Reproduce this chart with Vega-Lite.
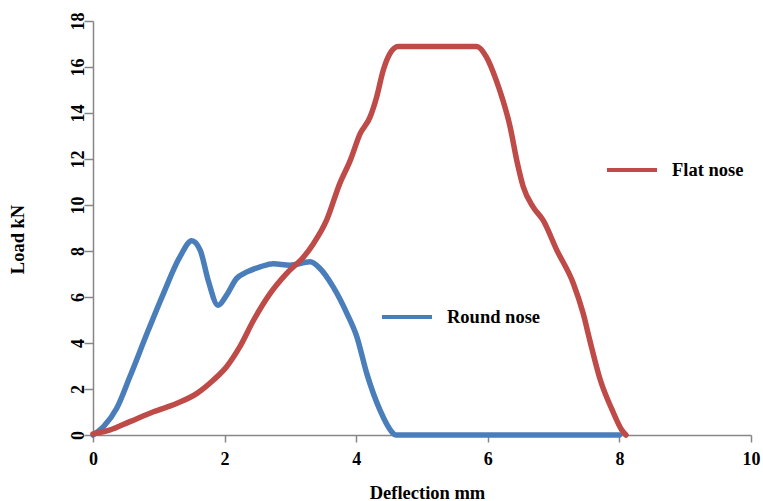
{
  "$schema": "https://vega.github.io/schema/vega-lite/v6.json",
  "width": 658,
  "height": 414,
  "autosize": "none",
  "padding": {"left": 93, "top": 21, "right": 12, "bottom": 66},
  "background": "white",
  "config": {
    "view": {"stroke": null},
    "axis": {
      "grid": false,
      "domainColor": "#868686",
      "domainWidth": 1.5,
      "tickColor": "#868686",
      "tickWidth": 1.5,
      "labelFont": "Liberation Serif",
      "labelFontWeight": "bold",
      "labelFontSize": 18,
      "labelColor": "black",
      "titleFont": "Liberation Serif",
      "titleFontWeight": "bold",
      "titleFontSize": 18.5,
      "titleColor": "black"
    },
    "legend": {
      "labelFont": "Liberation Serif",
      "labelFontWeight": "bold",
      "labelFontSize": 18.5,
      "labelColor": "black"
    }
  },
  "data": {
    "values": [
      {"series": "Round nose", "x": 0.0, "y": 0.0},
      {"series": "Round nose", "x": 0.16, "y": 0.36},
      {"series": "Round nose", "x": 0.36, "y": 1.16},
      {"series": "Round nose", "x": 0.56, "y": 2.53},
      {"series": "Round nose", "x": 0.82, "y": 4.41},
      {"series": "Round nose", "x": 1.07, "y": 6.15},
      {"series": "Round nose", "x": 1.32, "y": 7.74},
      {"series": "Round nose", "x": 1.5, "y": 8.45},
      {"series": "Round nose", "x": 1.63, "y": 8.03},
      {"series": "Round nose", "x": 1.75, "y": 6.73},
      {"series": "Round nose", "x": 1.9, "y": 5.64},
      {"series": "Round nose", "x": 2.03, "y": 6.08},
      {"series": "Round nose", "x": 2.18, "y": 6.8},
      {"series": "Round nose", "x": 2.34, "y": 7.09},
      {"series": "Round nose", "x": 2.54, "y": 7.31},
      {"series": "Round nose", "x": 2.74, "y": 7.45},
      {"series": "Round nose", "x": 2.99, "y": 7.38},
      {"series": "Round nose", "x": 3.3, "y": 7.53},
      {"series": "Round nose", "x": 3.45, "y": 7.24},
      {"series": "Round nose", "x": 3.65, "y": 6.44},
      {"series": "Round nose", "x": 3.86, "y": 5.28},
      {"series": "Round nose", "x": 4.01, "y": 4.27},
      {"series": "Round nose", "x": 4.16, "y": 2.68},
      {"series": "Round nose", "x": 4.36, "y": 1.09},
      {"series": "Round nose", "x": 4.54, "y": 0.14},
      {"series": "Round nose", "x": 4.6, "y": 0.0},
      {"series": "Round nose", "x": 8.0, "y": 0.0},
      {"series": "Flat nose", "x": 0.0, "y": 0.05},
      {"series": "Flat nose", "x": 0.26, "y": 0.22},
      {"series": "Flat nose", "x": 0.56, "y": 0.58},
      {"series": "Flat nose", "x": 0.92, "y": 1.01},
      {"series": "Flat nose", "x": 1.27, "y": 1.37},
      {"series": "Flat nose", "x": 1.58, "y": 1.81},
      {"series": "Flat nose", "x": 1.83, "y": 2.39},
      {"series": "Flat nose", "x": 2.03, "y": 2.97},
      {"series": "Flat nose", "x": 2.23, "y": 3.83},
      {"series": "Flat nose", "x": 2.44, "y": 4.99},
      {"series": "Flat nose", "x": 2.69, "y": 6.15},
      {"series": "Flat nose", "x": 2.94, "y": 7.02},
      {"series": "Flat nose", "x": 3.2, "y": 7.74},
      {"series": "Flat nose", "x": 3.35, "y": 8.32},
      {"series": "Flat nose", "x": 3.55, "y": 9.34},
      {"series": "Flat nose", "x": 3.75, "y": 10.93},
      {"series": "Flat nose", "x": 3.91, "y": 11.94},
      {"series": "Flat nose", "x": 4.06, "y": 13.1},
      {"series": "Flat nose", "x": 4.21, "y": 13.82},
      {"series": "Flat nose", "x": 4.31, "y": 14.69},
      {"series": "Flat nose", "x": 4.41, "y": 15.85},
      {"series": "Flat nose", "x": 4.51, "y": 16.57},
      {"series": "Flat nose", "x": 4.64, "y": 16.89},
      {"series": "Flat nose", "x": 5.83, "y": 16.89},
      {"series": "Flat nose", "x": 5.98, "y": 16.43},
      {"series": "Flat nose", "x": 6.13, "y": 15.41},
      {"series": "Flat nose", "x": 6.23, "y": 14.55},
      {"series": "Flat nose", "x": 6.34, "y": 13.39},
      {"series": "Flat nose", "x": 6.44, "y": 11.94},
      {"series": "Flat nose", "x": 6.54, "y": 10.78},
      {"series": "Flat nose", "x": 6.69, "y": 9.91},
      {"series": "Flat nose", "x": 6.84, "y": 9.34},
      {"series": "Flat nose", "x": 7.05, "y": 8.03},
      {"series": "Flat nose", "x": 7.3, "y": 6.59},
      {"series": "Flat nose", "x": 7.45, "y": 5.28},
      {"series": "Flat nose", "x": 7.55, "y": 4.12},
      {"series": "Flat nose", "x": 7.71, "y": 2.39},
      {"series": "Flat nose", "x": 7.89, "y": 1.09},
      {"series": "Flat nose", "x": 8.04, "y": 0.2},
      {"series": "Flat nose", "x": 8.1, "y": 0.0}
    ]
  },
  "encoding": {
    "x": {
      "field": "x",
      "type": "quantitative",
      "scale": {"domain": [0, 10], "nice": false},
      "axis": {
        "title": "Deflection mm",
        "values": [0, 2, 4, 6, 8, 10],
        "tickSize": 7,
        "labelPadding": 8,
        "labelFlush": false,
        "titleBaseline": "middle",
        "titleX": 334,
        "titleY": 57
      }
    },
    "y": {
      "field": "y",
      "type": "quantitative",
      "scale": {"domain": [0, 18], "nice": false},
      "axis": {
        "title": "Load kN",
        "values": [0, 2, 4, 6, 8, 10, 12, 14, 16, 18],
        "tickSize": 9,
        "labelPadding": 1,
        "labelAngle": -90,
        "labelAlign": "center",
        "labelBaseline": "alphabetic",
        "labelFlush": false,
        "titleAngle": -90,
        "titleBaseline": "middle",
        "titleAlign": "center",
        "titleX": -76,
        "titleY": 218
      }
    }
  },
  "layer": [
    {
      "transform": [{"filter": "datum.series === 'Round nose'"}],
      "mark": {"type": "line", "strokeWidth": 5.5, "strokeCap": "round", "strokeJoin": "round", "interpolate": "monotone"},
      "encoding": {
        "order": {"field": "x", "type": "quantitative"},
        "color": {
          "field": "series",
          "type": "nominal",
          "scale": {"domain": ["Round nose"], "range": ["#4a7ebb"]},
          "legend": {
            "title": null,
            "orient": "none",
            "legendX": 287,
            "legendY": 269,
            "padding": 0,
            "symbolType": "stroke",
            "symbolSize": 2500,
            "symbolStrokeWidth": 4,
            "labelOffset": 13
          }
        }
      }
    },
    {
      "transform": [{"filter": "datum.series === 'Flat nose'"}],
      "mark": {"type": "line", "strokeWidth": 5.5, "strokeCap": "round", "strokeJoin": "round", "interpolate": "monotone"},
      "encoding": {
        "order": {"field": "x", "type": "quantitative"},
        "color": {
          "field": "series",
          "type": "nominal",
          "scale": {"domain": ["Flat nose"], "range": ["#be4b48"]},
          "legend": {
            "title": null,
            "orient": "none",
            "legendX": 512,
            "legendY": 122,
            "padding": 0,
            "symbolType": "stroke",
            "symbolSize": 2500,
            "symbolStrokeWidth": 4,
            "labelOffset": 13
          }
        }
      }
    }
  ],
  "resolve": {"scale": {"color": "independent"}}
}
